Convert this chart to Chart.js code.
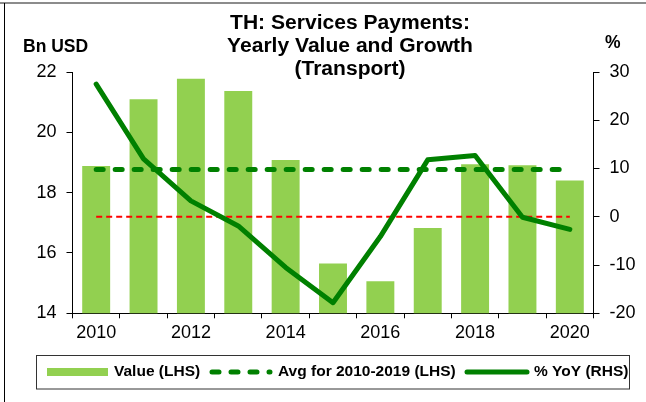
<!DOCTYPE html>
<html>
<head>
<meta charset="utf-8">
<title>TH: Services Payments (Transport)</title>
<script src="https://cdn.jsdelivr.net/npm/chart.js@4.4.1/dist/chart.umd.min.js"></script>
<style>
  html, body { margin: 0; padding: 0; background: #fff; }
  canvas { display: block; }
</style>
</head>
<body>
<canvas id="transportChart" width="646" height="402"></canvas>
<script>
'use strict';

/* --- Data --- */
const years    = ['2010','2011','2012','2013','2014','2015','2016','2017','2018','2019','2020'];
const valueBn  = [18.88, 21.10, 21.78, 21.37, 19.08, 15.65, 15.06, 16.83, 18.94, 18.91, 18.40];
const avgBn    = [18.77, 18.77, 18.77, 18.77, 18.77, 18.77, 18.77, 18.77, 18.77, 18.77, 18.77];
const yoyPct   = [27.5, 12.0, 3.3, -1.9, -10.5, -17.8, -4.1, 11.8, 12.7, -0.1, -2.6];
const zeroPct  = [0, 0, 0, 0, 0, 0, 0, 0, 0, 0, 0];
const leftTicks  = [14, 16, 18, 20, 22];
const rightTicks = [-20, -10, 0, 10, 20, 30];
const titleLines = ['TH: Services Payments:', 'Yearly Value and Growth', '(Transport)'];
const legendLabels = ['Value (LHS)', 'Avg for 2010-2019 (LHS)', '% YoY (RHS)'];

const FONT = '"Liberation Sans", Arial, sans-serif';
const BAR_GREEN = '#92D050';
const DARK_GREEN = '#008000';

/* --- Frame, title, unit labels and legend --- */
const decorPlugin = {
  id: 'decor',
  afterDraw(chart) {
    const c = chart.ctx;
    c.save();

    // outer frame (top + left edges visible)
    c.strokeStyle = '#8c8c8c';
    c.lineWidth = 2;
    c.beginPath(); c.moveTo(0, 3); c.lineTo(646, 3); c.stroke();
    c.strokeStyle = '#000';
    c.lineWidth = 1;
    c.beginPath(); c.moveTo(4.5, 3); c.lineTo(4.5, 402); c.stroke();

    // title (slightly wide, like the original export)
    c.fillStyle = '#000';
    c.textAlign = 'center';
    c.textBaseline = 'middle';
    c.font = 'bold 19.5px ' + FONT;
    titleLines.forEach((t, i) => {
      c.save();
      c.translate(350, 24 + i * 23);
      c.scale(1.08, 1);
      c.fillText(t, 0, 0);
      c.restore();
    });

    // unit labels
    c.font = 'bold 17.5px ' + FONT;
    c.textAlign = 'left';
    c.fillText('Bn USD', 23, 47);
    c.fillText('%', 605, 43);

    // legend box
    c.strokeStyle = '#333';
    c.lineWidth = 1;
    c.strokeRect(36.5, 355.5, 593, 33.5);

    const ly = 372;
    c.font = 'bold 15.5px ' + FONT;
    c.textBaseline = 'middle';

    // bar swatch
    c.fillStyle = BAR_GREEN;
    c.fillRect(47, 368, 61, 8);
    c.fillStyle = '#000';
    c.fillText(legendLabels[0], 114, ly);

    // dashed swatch
    c.strokeStyle = DARK_GREEN;
    c.lineWidth = 5;
    c.lineCap = 'round';
    c.setLineDash([7, 12]);
    c.beginPath(); c.moveTo(212, ly); c.lineTo(270, ly); c.stroke();
    c.setLineDash([]);
    c.fillText(legendLabels[1], 278, ly);

    // solid swatch
    c.beginPath(); c.moveTo(467, ly); c.lineTo(527, ly); c.stroke();
    c.fillText(legendLabels[2], 534, ly);

    c.restore();
  }
};

const axisFont = { family: FONT, size: 18 };

new Chart(document.getElementById('transportChart'), {
  type: 'bar',
  data: {
    labels: years,
    datasets: [
      {
        type: 'line',
        label: legendLabels[2],
        data: yoyPct,
        yAxisID: 'yRight',
        borderColor: DARK_GREEN,
        borderWidth: 5,
        borderCapStyle: 'round',
        borderJoinStyle: 'round',
        pointRadius: 0,
        tension: 0,
        order: 1
      },
      {
        type: 'line',
        label: legendLabels[1],
        data: avgBn,
        yAxisID: 'yLeft',
        borderColor: DARK_GREEN,
        borderWidth: 5,
        borderDash: [7, 12],
        borderCapStyle: 'round',
        pointRadius: 0,
        order: 2
      },
      {
        type: 'line',
        label: 'zero',
        data: zeroPct,
        yAxisID: 'yRight',
        borderColor: '#FF0000',
        borderWidth: 2,
        borderDash: [6, 4],
        pointRadius: 0,
        order: 3
      },
      {
        type: 'bar',
        label: legendLabels[0],
        data: valueBn,
        yAxisID: 'yLeft',
        backgroundColor: BAR_GREEN,
        categoryPercentage: 1,
        barPercentage: 0.59,
        order: 4
      }
    ]
  },
  options: {
    responsive: false,
    animation: false,
    layout: { padding: { top: 72, left: 0, right: 0, bottom: 0 } },
    plugins: {
      legend: { display: false },
      title: { display: false },
      tooltip: { enabled: false }
    },
    scales: {
      x: {
        offset: true,
        grid: { offset: true, drawOnChartArea: false, drawTicks: true, tickLength: 5, color: '#000' },
        border: { color: '#000', width: 1 },
        ticks: {
          autoSkip: false,
          maxRotation: 0,
          padding: 4,
          color: '#000',
          font: axisFont,
          callback: (v, i) => (i % 2 === 0 ? years[i] : '')
        },
        afterFit: s => { s.height = 88.7; }
      },
      yLeft: {
        position: 'left',
        min: leftTicks[0],
        max: leftTicks[leftTicks.length - 1],
        grid: { drawOnChartArea: false, tickLength: 6, color: '#000' },
        border: { color: '#000', width: 1 },
        ticks: { stepSize: leftTicks[1] - leftTicks[0], padding: 10, color: '#000', font: axisFont },
        afterFit: s => { s.width = 72.5; }
      },
      yRight: {
        position: 'right',
        min: rightTicks[0],
        max: rightTicks[rightTicks.length - 1],
        grid: { drawOnChartArea: false, tickLength: 6, color: '#000' },
        border: { color: '#000', width: 1 },
        ticks: { stepSize: rightTicks[1] - rightTicks[0], padding: 10, color: '#000', font: axisFont },
        afterFit: s => { s.width = 52.5; }
      }
    }
  },
  plugins: [decorPlugin]
});
</script>
</body>
</html>
